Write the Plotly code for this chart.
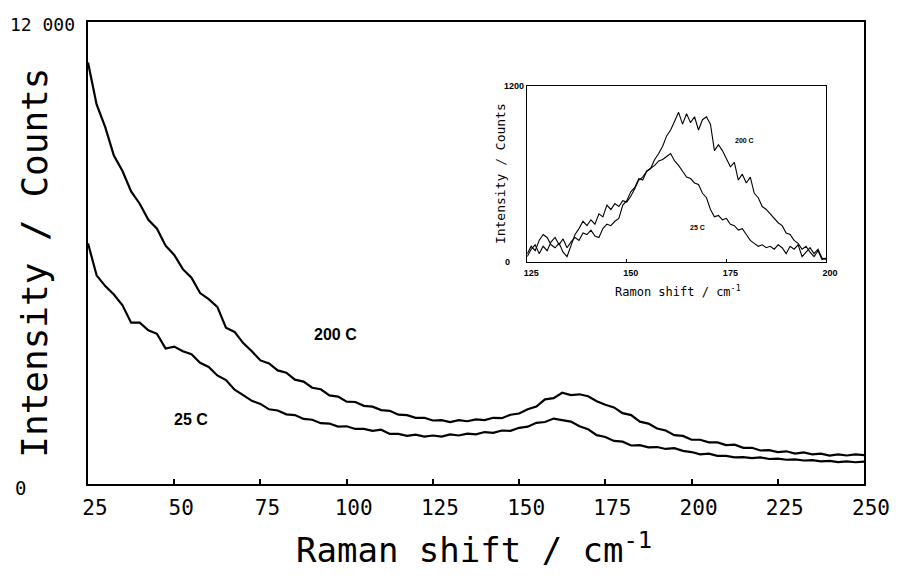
import numpy as np
import plotly.graph_objects as go

# ---------------- main spectrum data ----------------
main_x_start, main_x_step = 25.0, 2.5
main_200C = [
    10950, 9860, 9270, 8530, 8130, 7600, 7280, 6860, 6630, 6190,
    5950, 5580, 5360, 4960, 4800, 4600, 4060, 3950, 3660, 3450,
    3210, 3130, 2950, 2890, 2710, 2660, 2500, 2460, 2300, 2270,
    2140, 2130, 2030, 2010, 1920, 1900, 1800, 1790, 1720, 1720,
    1650, 1660, 1610, 1660, 1630, 1680, 1660, 1720, 1710, 1800,
    1830, 1940, 2010, 2200, 2230, 2370, 2310, 2330, 2280, 2150,
    2060, 1990, 1840, 1790, 1620, 1570, 1440, 1390, 1270, 1250,
    1150, 1150, 1080, 1080, 1010, 1020, 940, 940, 870, 880,
    830, 850, 790, 820, 770, 790, 740, 770, 740, 770,
    750,
]
main_25C = [
    6250, 5420, 5140, 4920, 4640, 4190, 4190, 3990, 3900, 3520,
    3570, 3450, 3370, 3150, 3040, 2820, 2700, 2450, 2310, 2160,
    2080, 1940, 1910, 1810, 1790, 1690, 1670, 1580, 1570, 1490,
    1500, 1430, 1430, 1380, 1410, 1300, 1300, 1250, 1280, 1230,
    1260, 1230, 1290, 1260, 1310, 1290, 1350, 1330, 1390, 1380,
    1460, 1490, 1590, 1610, 1700, 1660, 1620, 1500, 1420, 1270,
    1220, 1120, 1100, 1000, 1010, 950, 960, 910, 930, 860,
    830, 770, 790, 730, 730, 690, 700, 670, 690, 650,
    660, 630, 640, 610, 620, 590, 600, 570, 590, 565,
    580,
]
main_x = [main_x_start + i * main_x_step for i in range(len(main_200C))]

# ---------------- inset data ----------------
inset_x = list(range(125, 201))
inset_200C = [
    60, 110, 80, 150, 190, 170, 120, 100, 130, 70,
    40, 120, 190, 230, 280, 250, 290, 260, 330, 310,
    390, 360, 400, 380, 420, 410, 450, 500, 560, 580,
    620, 640, 700, 740, 790, 860, 900, 960, 1020, 940,
    1010, 950, 990, 900, 970, 990, 940, 760, 800, 760,
    700, 650, 680, 560, 600, 540, 580, 470, 440, 380,
    360, 330, 300, 270, 250, 200, 190, 150, 130, 90,
    110, 70, 40, 80, 20, 30,
]
inset_25C = [
    40, 90, 120, 60, 110, 80, 140, 170, 120, 160,
    100, 140, 170, 150, 200, 190, 220, 180, 170, 230,
    260, 250, 280, 300, 390, 420, 480, 510, 570, 560,
    620, 640, 660, 690, 700, 720, 740, 690, 660, 620,
    580, 570, 540, 530, 470, 440, 360, 310, 320, 290,
    300, 260, 250, 220, 230, 190, 150, 130, 110, 120,
    100, 110, 90, 120, 100, 60, 110, 90, 120, 40,
    70, 100, 60, 90, 30, 20,
]

main_xticks = [25, 50, 75, 100, 125, 150, 175, 200, 225, 250]
inset_xticks = [125, 150, 175, 200]

MONO = "DejaVu Sans Mono"

fig = go.Figure()
fig.add_trace(go.Scatter(x=main_x, y=main_200C, mode="lines",
                         line=dict(color="black", width=2.2), xaxis="x", yaxis="y",
                         showlegend=False, hoverinfo="skip"))
fig.add_trace(go.Scatter(x=main_x, y=main_25C, mode="lines",
                         line=dict(color="black", width=2.2), xaxis="x", yaxis="y",
                         showlegend=False, hoverinfo="skip"))
fig.add_trace(go.Scatter(x=inset_x, y=inset_200C, mode="lines",
                         line=dict(color="black", width=1.1), xaxis="x2", yaxis="y2",
                         showlegend=False, hoverinfo="skip"))
fig.add_trace(go.Scatter(x=inset_x, y=inset_25C, mode="lines",
                         line=dict(color="black", width=1.1), xaxis="x2", yaxis="y2",
                         showlegend=False, hoverinfo="skip"))

ann = []
def add_text(text, x, y, size, xref="paper", yref="paper", angle=0, xanchor="center",
             family=MONO, bold=False):
    if bold:
        text = "<b>" + text + "</b>"
    ann.append(dict(text=text, x=x, y=y, xref=xref, yref=yref, showarrow=False,
                    textangle=angle, xanchor=xanchor, yanchor="middle",
                    font=dict(family=family, size=size, color="black")))

# main axis titles and y tick labels
add_text("Intensity / Counts", -0.0693, 0.4795, 36, angle=-90)
add_text("Raman shift / cm<sup>-1</sup>", 0.4968, -0.138, 34)
add_text("12 000", -0.014, 0.995, 18, xanchor="right")
add_text("0", -0.0873, -0.009, 19)
# main curve labels
add_text("200 C", 96.7, 3888, 16, xref="x", yref="y", family="Liberation Sans", bold=True)
add_text("25 C", 55, 1685, 16, xref="x", yref="y", family="Liberation Sans", bold=True)
# inset titles and labels
add_text("Intensity / Counts", 0.5315, 0.6717, 13, angle=-90)
add_text("Ramon shift / cm<sup>-1</sup>", 0.76, 0.4168, 12)
add_text("1200", 0.566 - 0.002, 0.8618, 9, xanchor="right", family="Liberation Sans", bold=True)
add_text("0", 0.5405, 0.4795, 9, family="Liberation Sans", bold=True)
add_text("200 C", 179.5, 827, 7, xref="x2", yref="y2", family="Liberation Sans", bold=True)
add_text("25 C", 167.7, 237, 7, xref="x2", yref="y2", family="Liberation Sans", bold=True)

# page body has an 8px margin, so the figure is sized to fit the 902x581 window
fig.update_layout(
    width=894, height=573,
    margin=dict(l=80, r=35, t=13, b=97),
    paper_bgcolor="white", plot_bgcolor="white",
    showlegend=False,
    annotations=ann,
    xaxis=dict(range=[25, 250], showline=True, mirror=True, linecolor="black", linewidth=2,
               ticks="inside", ticklen=5, tickwidth=1.5, tickcolor="black",
               tickvals=main_xticks, ticktext=[str(v) for v in main_xticks],
               tickfont=dict(family=MONO, size=21, color="black"),
               ticklabelstandoff=4, ticklabelshift=7,
               showgrid=False, zeroline=False, domain=[0, 1]),
    yaxis=dict(range=[0, 12000], showline=True, mirror=True, linecolor="black", linewidth=2,
               ticks="", showticklabels=False, showgrid=False, zeroline=False, domain=[0, 1]),
    xaxis2=dict(range=[125, 200], anchor="y2", domain=[0.566, 0.951],
                showline=True, mirror=True, linecolor="black", linewidth=1,
                ticks="inside", ticklen=3, tickwidth=1, tickcolor="black",
                tickvals=inset_xticks, ticktext=[str(v) for v in inset_xticks],
                tickfont=dict(family="Liberation Sans", size=9, color="black", weight="bold"),
                ticklabelshift=4, ticklabelstandoff=2,
                showgrid=False, zeroline=False),
    yaxis2=dict(range=[0, 1200], anchor="x2", domain=[0.4795, 0.8618],
                showline=True, mirror=True, linecolor="black", linewidth=1,
                ticks="", showticklabels=False, showgrid=False, zeroline=False),
)

fig.write_html("out.html")
